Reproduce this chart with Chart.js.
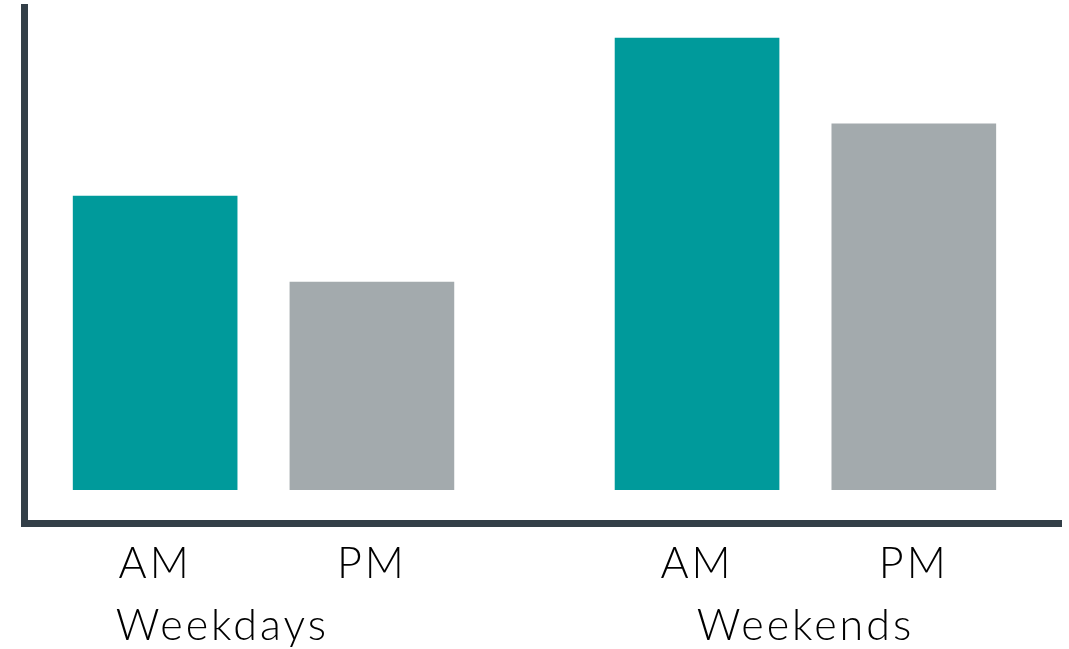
<!DOCTYPE html>
<html>
<head>
<meta charset="utf-8">
<script src="https://cdn.jsdelivr.net/npm/chart.js@4"></script>
<style>
  html, body { margin: 0; padding: 0; background: #ffffff; }
  #wrap { width: 1069px; height: 649px; }
</style>
</head>
<body>
<div id="wrap"><canvas id="c" width="1069" height="649"></canvas></div>
<script>
// ---- data ----
const slots = ['AM', 'PM'];
const groups = ['Weekdays', 'Weekends'];
const amValues = [65, 100];
const pmValues = [46, 81];

// ---- layout constants (not data) ----
const GROUP_STEP = 2.5;              // x-units between groups
const GROUP_LABEL_POS = [0.31, 3.0]; // where group captions sit on the x scale
const TEAL = '#009A9B';
const GREY = '#A3AAAD';
const AXIS = '#333F48';
const FONT = 'Lato, "DejaVu Sans", sans-serif';

const seriesBySlot = [amValues, pmValues];
const points = [], colors = [], tickPos = [], tickLabels = [];
groups.forEach((g, gi) => {
  slots.forEach((s, si) => {
    const x = gi * GROUP_STEP + si;
    points.push({ x: x, y: seriesBySlot[si][gi] });
    colors.push(si === 0 ? TEAL : GREY);
    tickPos.push(x);
    tickLabels.push(s);
  });
});

const X_MIN = -0.605, X_MAX = 4.179;

const spacing = {
  id: 'spacing',
  beforeDraw(chart) { chart.ctx.letterSpacing = '3px'; }
};

new Chart(document.getElementById('c'), {
  type: 'bar',
  data: {
    datasets: [{
      data: points,
      backgroundColor: colors,
      borderWidth: 0,
      barThickness: 164
    }]
  },
  plugins: [spacing],
  options: {
    responsive: false,
    animation: false,
    layout: { padding: { left: 24, right: 8, top: 7.5, bottom: 2 } },
    plugins: { legend: { display: false }, tooltip: { enabled: false } },
    scales: {
      x: {
        type: 'linear', position: 'bottom', weight: 0, offset: false,
        min: X_MIN, max: X_MAX,
        grid: { display: false, drawTicks: false },
        border: { display: true, color: AXIS, width: 7 },
        afterBuildTicks: (sc) => { sc.ticks = tickPos.map(v => ({ value: v })); },
        ticks: {
          autoSkip: false, maxRotation: 0, padding: 14.5,
          color: '#000', font: { family: FONT, size: 43, weight: 300 },
          callback: (v, i) => tickLabels[i]
        }
      },
      x2: {
        type: 'linear', position: 'bottom', weight: 1, offset: false,
        min: X_MIN, max: X_MAX,
        grid: { display: false, drawTicks: false },
        border: { display: false },
        afterBuildTicks: (sc) => { sc.ticks = GROUP_LABEL_POS.map(v => ({ value: v })); },
        ticks: {
          autoSkip: false, maxRotation: 0, padding: -4.5,
          color: '#000', font: { family: FONT, size: 43, weight: 300 },
          callback: (v, i) => groups[i]
        }
      },
      y: {
        min: -7.54, max: 106.76,
        grid: { display: false, drawTicks: false },
        border: { display: true, color: AXIS, width: 7 },
        ticks: { display: false }
      }
    }
  }
});
</script>
</body>
</html>
